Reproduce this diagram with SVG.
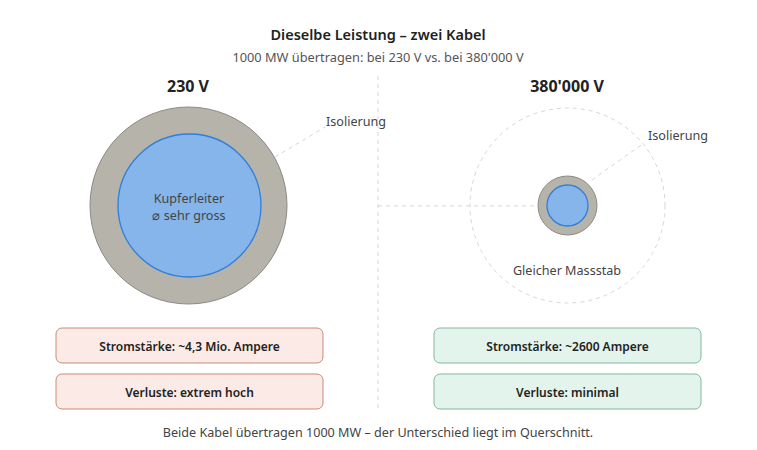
<svg xmlns="http://www.w3.org/2000/svg" width="757" height="450" viewBox="0 0 757 450">
<style>
text{font-family:"Noto Sans","Open Sans","Liberation Sans",sans-serif;text-anchor:middle;fill:#333}
.title{font-size:14.5px;font-weight:600;fill:#222}
.sub{font-size:12.8px;fill:#555}
.head{font-size:16px;font-weight:700;fill:#222}
.lbl{font-size:12.6px;fill:#444}
.box{font-size:12px;font-weight:600;fill:#222}
.dash{stroke:#d6d6d6;stroke-width:1;stroke-dasharray:4 4;fill:none}
.ins{fill:#b6b3ab;stroke:#8c8a84;stroke-width:1}
.cu{fill:#85b5ea;stroke:#2f7fdc;stroke-width:1.3}
.red{fill:#fbeae5;stroke:#c98a78;stroke-width:1}
.grn{fill:#e2f4ec;stroke:#7fb9a2;stroke-width:1}
</style>
<text class="title" x="378" y="40">Dieselbe Leistung – zwei Kabel</text>
<text class="sub" x="378" y="62">1000 MW übertragen: bei 230 V vs. bei 380'000 V</text>
<g id="connectors">
<line class="dash" x1="378" y1="76" x2="378" y2="412"/>
<line class="dash" x1="378" y1="206" x2="538" y2="206"/>
<line class="dash" x1="275" y1="157" x2="325" y2="127"/>
<line class="dash" x1="592" y1="180" x2="644" y2="143"/>
</g>
<g id="left-cable">
<text class="head" x="188" y="92">230 V</text>
<circle class="ins" cx="188.5" cy="205.5" r="98.5"/>
<circle class="cu" cx="189.5" cy="205.5" r="71.5"/>
<text class="lbl" x="189" y="203">Kupferleiter</text>
<text class="lbl" x="189" y="220">⌀ sehr gross</text>
<text class="lbl" x="356" y="126">Isolierung</text>
</g>
<g id="right-cable">
<text class="head" x="567" y="92">380'000 V</text>
<circle class="dash" cx="567.5" cy="205.5" r="97.5"/>
<circle class="ins" cx="567.5" cy="205.5" r="29.5"/>
<circle class="cu" cx="567.5" cy="205.5" r="20.5"/>
<text class="lbl" x="678" y="140">Isolierung</text>
<text class="lbl" x="567" y="275">Gleicher Massstab</text>
</g>
<g id="left-current">
<rect class="red" x="56" y="328" width="267" height="35" rx="6"/>
<text class="box" x="189.5" y="350.5">Stromstärke: ~4,3 Mio. Ampere</text>
</g>
<g id="left-loss">
<rect class="red" x="56" y="374" width="267" height="35" rx="6"/>
<text class="box" x="189.5" y="396.5">Verluste: extrem hoch</text>
</g>
<g id="right-current">
<rect class="grn" x="434" y="328" width="267" height="35" rx="6"/>
<text class="box" x="567.5" y="350.5">Stromstärke: ~2600 Ampere</text>
</g>
<g id="right-loss">
<rect class="grn" x="434" y="374" width="267" height="35" rx="6"/>
<text class="box" x="567.5" y="396.5">Verluste: minimal</text>
</g>
<text class="lbl" x="378" y="437">Beide Kabel übertragen 1000 MW – der Unterschied liegt im Querschnitt.</text>
</svg>
